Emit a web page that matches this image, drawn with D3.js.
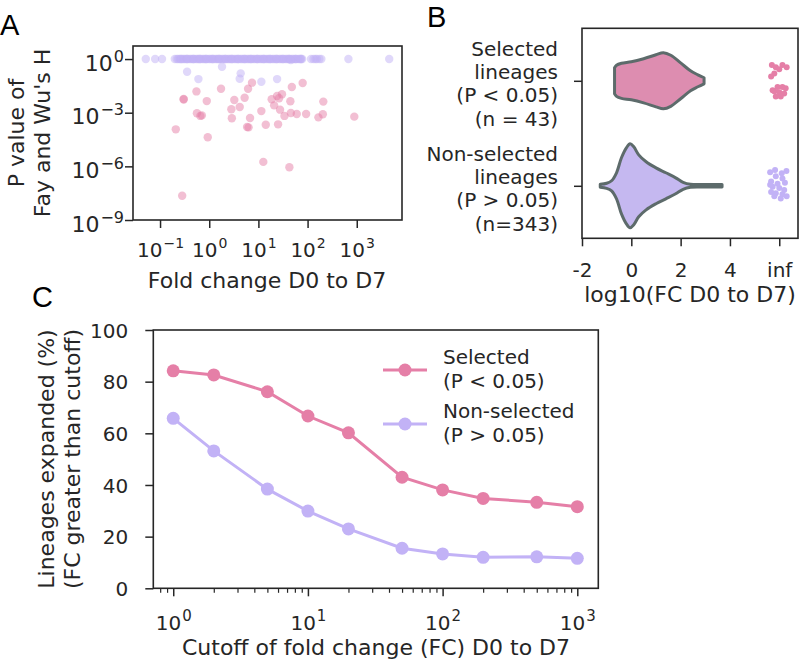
<!DOCTYPE html>
<html>
<head>
<meta charset="utf-8">
<script src="https://cdn.jsdelivr.net/npm/d3@7"></script>
<style>
body { margin: 0; background: #fff; }
text { font-family: "DejaVu Sans", sans-serif; fill: #262626; }
.letter { font-family: "Liberation Sans", Arial, sans-serif; font-size: 29px; fill: #000; }
</style>
</head>
<body>
<svg id="fig" width="802" height="662"></svg>
<script>
// ---- panel A: log10 fold change / log10 p value ----
var selLogFC = [-0.52,-0.52,-0.26,-0.05,0.24,-0.68,-0.03,-0.55,-0.25,-0.18,-0.15,0.51,0.45,0.62,0.46,0.72,0.79,0.87,0.83,0.80,0.77,
  1.06,1.15,1.10,1.27,1.38,1.48,1.42,1.32,1.44,1.40,1.53,1.65,1.68,1.66,1.78,1.90,1.97,1.63,2.22,2.31,2.32,2.95];
var selLogP = [-2.23,-2.26,-1.81,-2.35,-1.66,-3.93,-4.37,-7.64,-3.03,-3.18,-3.15,-2.29,-2.81,-2.68,-3.31,-2.16,-1.66,-1.32,-3.30,-3.82,-3.80,
  -2.91,-3.67,-5.75,-2.25,-2.07,-1.97,-2.19,-2.59,-2.83,-3.65,-3.18,-2.36,-1.56,-3.02,-3.07,-1.34,-3.07,-6.05,-3.26,-3.09,-2.38,-3.22];
// non-selected lineages with P = 1
var nonLogFC_p1 = [-1.29,-1.10,-0.96,-0.70,-0.66,-0.63,-0.60,-0.56,-0.53,-0.50,-0.47,-0.44,-0.40,-0.37,-0.34,-0.31,-0.27,-0.24,-0.21,-0.18,
  -0.14,-0.11,-0.08,-0.05,-0.01,0.02,0.05,0.08,0.12,0.15,0.18,0.21,0.25,0.28,0.31,0.34,0.38,0.41,0.44,0.47,0.51,0.54,0.57,0.60,0.64,
  0.67,0.70,0.73,0.77,0.80,0.83,0.86,0.90,0.93,0.96,0.99,1.03,1.06,1.09,1.12,1.16,1.19,1.22,1.25,1.29,1.32,1.35,1.38,1.42,1.45,1.48,
  1.51,1.55,1.58,1.61,1.64,1.68,1.71,1.74,1.77,1.81,1.84,1.87,1.89,2.07,2.12,2.16,2.19,2.24,2.28,2.83,3.66,
  -0.58,-0.45,-0.32,-0.19,-0.06,0.07,0.20,0.33,0.46,0.59,0.72,0.85,0.98,1.11,1.24,1.37,1.50,1.63,1.76,1.86];
// non-selected lineages with P < 1
var nonLogFC = [-0.45,-0.22,0.26,0.64,0.62,1.06,1.38,1.66];
var nonLogP = [-0.71,-1.12,-0.43,-0.80,-1.10,-1.27,-1.12,-0.05];
var xTicksA = [-1, 0, 1, 2, 3];
var yTicksA = [0, -3, -6, -9];

// ---- panel B: violin outlines (log10 FC, half width) and inf strip ----
var categories = ["Selected", "Non-selected"];
var catLabels = [["Selected", "lineages", "(P < 0.05)", "(n = 43)"],
                 ["Non-selected", "lineages", "(P > 0.05)", "(n=343)"]];
var violinSel = [[-0.68,0.124],[-0.6,0.148],[-0.4,0.167],[0,0.181],[0.5,0.21],[1.0,0.248],[1.3,0.267],[1.6,0.243],
  [2.0,0.171],[2.4,0.095],[2.7,0.057],[2.95,0.029]];
var violinNon = [[-1.26,0.014],[-1.0,0.024],[-0.8,0.048],[-0.6,0.124],[-0.4,0.267],[-0.2,0.362],[-0.05,0.4],[0.1,0.371],
  [0.3,0.295],[0.6,0.229],[1.0,0.171],[1.4,0.124],[1.8,0.076],[2.1,0.033],[2.4,0.014],[3.0,0.012],[3.68,0.012]];
var infSelX = [5.70,5.86,6.13,6.30,6.00,5.80,5.67,5.93,6.13,6.26,5.80,6.00,6.20,5.86,6.06,5.73];
var infSelY = [-0.15,-0.13,-0.15,-0.13,-0.11,-0.07,-0.04,0.06,0.06,0.07,0.10,0.11,0.12,0.15,0.15,0.09];
var infNonX = [5.63,5.83,6.10,6.29,5.86,6.13,5.67,5.93,6.23,5.73,6.00,5.67,5.86,6.13,6.30,6.06,5.80,6.20,5.63];
var infNonY = [-0.13,-0.15,-0.12,-0.14,-0.09,-0.07,-0.04,-0.02,-0.03,0.01,0.02,0.06,0.07,0.08,0.10,0.12,0.10,0.04,-0.01];
var xTicksB = [-2, 0, 2, 4, 6];
var xTickLabelsB = ["-2", "0", "2", "4", "inf"];

// ---- panel C: % lineages expanded vs cutoff ----
var cutoffs = [1, 2, 5, 10, 20, 50, 100, 200, 500, 1000];
var selectedPct = [84.2, 82.6, 76.1, 66.7, 60.2, 43.0, 38.1, 34.8, 33.3, 31.6];
var nonSelectedPct = [65.8, 53.2, 38.4, 29.9, 23.0, 15.5, 13.3, 12.0, 12.2, 11.6];
var yTicksC = [0, 20, 40, 60, 80, 100];
var legendC = [["Selected", "(P < 0.05)"], ["Non-selected", "(P > 0.05)"]];

var pink = "#e57fa7", purple = "#c2b2f6";
var pinkFill = "#dd8db0", purpleFill = "#c5b8f0", violinStroke = "#5d6b6b";
var svg = d3.select("#fig");

function sup(sel, fs) {
  sel.each(function(d) {
    var t = d3.select(this), e = Math.round(Math.log10(d));
    t.text(null);
    t.append("tspan").text("10");
    t.append("tspan").attr("dy", -9).attr("dx", 1).attr("font-size", fs).text(e < 0 ? "\u2212" + (-e) : e);
  });
}
function frame(g, x0, y0, x1, y1) {
  g.append("rect").attr("x", x0).attr("y", y0).attr("width", x1 - x0).attr("height", y1 - y0)
    .attr("fill", "none").attr("stroke", "#262626").attr("stroke-width", 1.6);
}
function styleAxis(g) {
  g.select(".domain").remove();
  g.selectAll(".tick line").attr("stroke", "#262626").attr("stroke-width", 1.5);
  g.selectAll("text").attr("fill", "#262626").attr("font-family", "DejaVu Sans").attr("font-size", 20);
}

// ================= A =================
var xA = d3.scaleLog().domain([Math.pow(10, -1.55), Math.pow(10, 3.92)]).range([133, 402]);
var yA = d3.scaleLog().domain([1e-9, Math.pow(10, 0.73)]).range([220, 46]);
var gA = svg.append("g");
gA.append("g").selectAll("circle").data(nonLogFC_p1).enter().append("circle")
  .attr("cx", function(d) { return xA(Math.pow(10, d)); }).attr("cy", yA(1)).attr("r", 4.2)
  .attr("fill", purple).attr("opacity", 0.5);
gA.append("g").selectAll("circle").data(nonLogFC).enter().append("circle")
  .attr("cx", function(d) { return xA(Math.pow(10, d)); })
  .attr("cy", function(d, i) { return yA(Math.pow(10, nonLogP[i])); }).attr("r", 4.2)
  .attr("fill", purple).attr("opacity", 0.5);
gA.append("g").selectAll("circle").data(selLogFC).enter().append("circle")
  .attr("cx", function(d) { return xA(Math.pow(10, d)); })
  .attr("cy", function(d, i) { return yA(Math.pow(10, selLogP[i])); }).attr("r", 4.2)
  .attr("fill", pink).attr("opacity", 0.5);
frame(gA, 133, 46, 402, 220);
var axA = gA.append("g").attr("transform", "translate(0,220)")
  .call(d3.axisBottom(xA).tickValues(xTicksA.map(function(e) { return Math.pow(10, e); })).tickSize(8).tickSizeOuter(0));
styleAxis(axA);
axA.selectAll("text").attr("y", 37).attr("dy", null).call(sup, 14);
var ayA = gA.append("g").attr("transform", "translate(133,0)")
  .call(d3.axisLeft(yA).tickValues(yTicksA.map(function(e) { return Math.pow(10, e); })).tickSize(8).tickSizeOuter(0));
styleAxis(ayA);
ayA.selectAll("text").attr("font-size", 22).attr("x", -9).attr("dy", "0.5em").call(sup, 16);
gA.append("text").attr("x", 267).attr("y", 288).attr("text-anchor", "middle").attr("font-size", 22).text("Fold change D0 to D7");
[["P value of", 24], ["Fay and Wu's H", 50]].forEach(function(l) {
  gA.append("text").attr("transform", "translate(" + l[1] + ",133) rotate(-90)")
    .attr("text-anchor", "middle").attr("font-size", 22).text(l[0]);
});
svg.append("text").attr("class", "letter").attr("x", 0).attr("y", 35).text("A");

// ================= B =================
var xB = d3.scaleLinear().domain([-2, 6.76]).range([582, 798]);
var yB = d3.scaleLinear().domain([-0.5, 1.5]).range([28.3, 238.3]);
var gB = svg.append("g");
[[violinSel, 0, pinkFill], [violinNon, 1, purpleFill]].forEach(function(v) {
  var area = d3.area().curve(d3.curveCatmullRom)
    .x(function(d) { return xB(d[0]); })
    .y0(function(d) { return yB(v[1] - d[1]); })
    .y1(function(d) { return yB(v[1] + d[1]); });
  gB.append("path").datum(v[0]).attr("d", area).attr("fill", v[2])
    .attr("stroke", violinStroke).attr("stroke-width", 3).attr("stroke-linejoin", "round");
});
gB.append("g").selectAll("circle").data(infSelX).enter().append("circle")
  .attr("cx", function(d) { return xB(d); }).attr("cy", function(d, i) { return yB(0 + infSelY[i]); })
  .attr("r", 3).attr("fill", pink);
gB.append("g").selectAll("circle").data(infNonX).enter().append("circle")
  .attr("cx", function(d) { return xB(d); }).attr("cy", function(d, i) { return yB(1 + infNonY[i]); })
  .attr("r", 3).attr("fill", purple);
frame(gB, 582, 28.3, 798, 238.3);
var axB = gB.append("g").attr("transform", "translate(0,238.3)")
  .call(d3.axisBottom(xB).tickValues(xTicksB).tickSize(8).tickSizeOuter(0)
    .tickFormat(function(d, i) { return xTickLabelsB[i]; }));
styleAxis(axB);
axB.selectAll("text").attr("y", 39).attr("dy", null);
var ayB = gB.append("g").attr("transform", "translate(582,0)")
  .call(d3.axisLeft(yB).tickValues([0, 1]).tickSize(8).tickSizeOuter(0).tickFormat(""));
styleAxis(ayB);
catLabels.forEach(function(lines, c) {
  var t = gB.append("text").attr("text-anchor", "end").attr("font-size", 20);
  lines.forEach(function(s, k) {
    t.append("tspan").attr("x", 558).attr("y", yB(c) - 25.2 + k * 23.3).text(s);
  });
});
gB.append("text").attr("x", 690).attr("y", 302).attr("text-anchor", "middle").attr("font-size", 22).text("log10(FC D0 to D7)");
svg.append("text").attr("class", "letter").attr("x", 427).attr("y", 27).text("B");

// ================= C =================
var xC = d3.scaleLog().domain([Math.pow(10, -0.148), Math.pow(10, 3.156)]).range([153.3, 598.3]);
var yC = d3.scaleLinear().domain([0, 100]).range([588.3, 330]);
var gC = svg.append("g");
[[nonSelectedPct, purple], [selectedPct, pink]].forEach(function(s) {
  var line = d3.line().x(function(d, i) { return xC(cutoffs[i]); }).y(function(d) { return yC(d); });
  gC.append("path").datum(s[0]).attr("d", line).attr("fill", "none").attr("stroke", s[1]).attr("stroke-width", 3);
  gC.append("g").selectAll("circle").data(s[0]).enter().append("circle")
    .attr("cx", function(d, i) { return xC(cutoffs[i]); }).attr("cy", function(d) { return yC(d); })
    .attr("r", 6.5).attr("fill", s[1]);
});
frame(gC, 153.3, 330, 598.3, 588.3);
var minorC = [];
xC.ticks().forEach(function(v) { if (Math.abs(Math.log10(v) % 1) > 1e-6) minorC.push(v); });
var mxC = gC.append("g").attr("transform", "translate(0,588.3)")
  .call(d3.axisBottom(xC).tickValues(minorC).tickSize(4.5).tickSizeOuter(0).tickFormat(""));
styleAxis(mxC);
mxC.selectAll(".tick line").attr("stroke-width", 1.2);
var axC = gC.append("g").attr("transform", "translate(0,588.3)")
  .call(d3.axisBottom(xC).tickValues([1, 10, 100, 1000]).tickSize(8).tickSizeOuter(0));
styleAxis(axC);
axC.selectAll("text").attr("y", 42).attr("dy", null).call(sup, 15);
var ayC = gC.append("g").attr("transform", "translate(153.3,0)")
  .call(d3.axisLeft(yC).tickValues(yTicksC).tickSize(8).tickSizeOuter(0));
styleAxis(ayC);
ayC.selectAll("text").attr("x", -25).attr("dy", "0.36em");
gC.append("text").attr("x", 376).attr("y", 655).attr("text-anchor", "middle").attr("font-size", 22)
  .text("Cutoff of fold change (FC) D0 to D7");
[["Lineages expanded (%)", 54], ["(FC greater than cutoff)", 80]].forEach(function(l) {
  gC.append("text").attr("transform", "translate(" + l[1] + ",459) rotate(-90)")
    .attr("text-anchor", "middle").attr("font-size", 22).text(l[0]);
});
// legend
[[pink, 370], [purple, 424]].forEach(function(l, k) {
  gC.append("line").attr("x1", 383).attr("x2", 427).attr("y1", l[1]).attr("y2", l[1])
    .attr("stroke", l[0]).attr("stroke-width", 3);
  gC.append("circle").attr("cx", 405).attr("cy", l[1]).attr("r", 6.5).attr("fill", l[0]);
  var t = gC.append("text").attr("font-size", 20);
  legendC[k].forEach(function(s, j) {
    t.append("tspan").attr("x", 443).attr("y", l[1] - 6 + j * 23.5).text(s);
  });
});
svg.append("text").attr("class", "letter").attr("x", 32).attr("y", 307).text("C");
</script>
</body>
</html>
